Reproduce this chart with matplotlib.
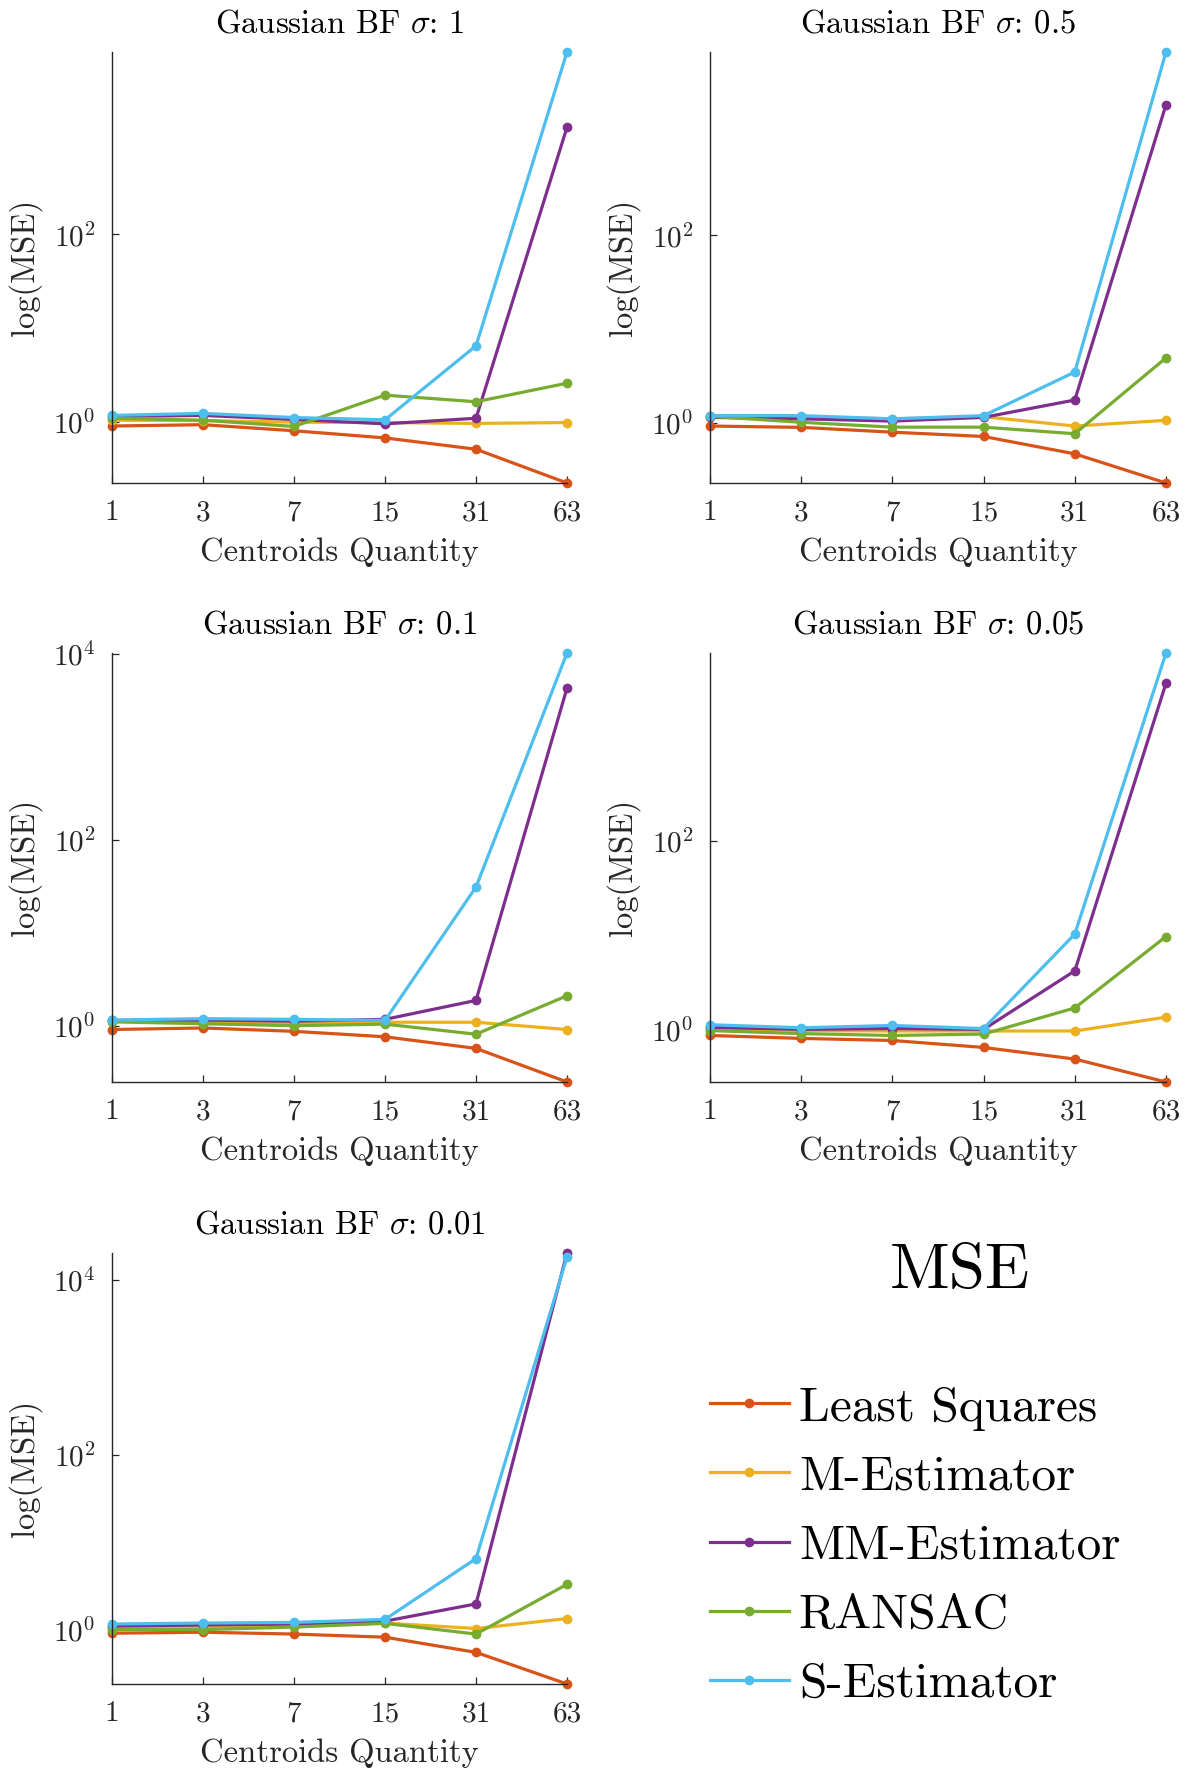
import numpy as np
import matplotlib
matplotlib.use("Agg")
import matplotlib.pyplot as plt
from matplotlib.ticker import FixedLocator, NullLocator, LogFormatterSciNotation

plt.rcParams['font.family'] = ['cmr10', 'DejaVu Serif']
plt.rcParams['mathtext.fontset'] = 'cm'
plt.rcParams['axes.formatter.use_mathtext'] = True

# data
centroids = [1, 3, 7, 15, 31, 63]
sigmas = ['1', '0.5', '0.1', '0.05', '0.01']
methods = ['Least Squares', 'M-Estimator', 'MM-Estimator', 'RANSAC', 'S-Estimator']
colors = ['#D95319', '#EDB120', '#7E2F8E', '#77AC30', '#4DBEEE']

mse_s1 = [
    [0.91, 0.94, 0.81, 0.68, 0.515, 0.225],
    [1.05, 1.04, 1.00, 0.99, 0.97, 0.99],
    [1.15, 1.18, 1.07, 0.96, 1.10, 1380],
    [1.10, 1.05, 0.90, 1.94, 1.65, 2.6],
    [1.18, 1.24, 1.12, 1.06, 6.5, 8750],
]
mse_s05 = [
    [0.93, 0.90, 0.80, 0.72, 0.47, 0.23],
    [1.17, 1.16, 1.11, 1.17, 0.93, 1.07],
    [1.15, 1.11, 1.05, 1.15, 1.76, 2460],
    [1.18, 1.02, 0.905, 0.905, 0.77, 4.95],
    [1.20, 1.20, 1.11, 1.20, 3.5, 8970],
]
mse_s01 = [
    [0.91, 0.945, 0.87, 0.76, 0.57, 0.248],
    [1.12, 1.10, 1.07, 1.09, 1.09, 0.91],
    [1.14, 1.15, 1.12, 1.17, 1.87, 4280],
    [1.10, 1.05, 1.00, 1.04, 0.81, 2.1],
    [1.15, 1.19, 1.17, 1.14, 31, 10200],
]
mse_s005 = [
    [0.87, 0.81, 0.77, 0.65, 0.49, 0.28],
    [1.03, 0.98, 0.97, 0.97, 0.97, 1.36],
    [1.06, 1.01, 1.03, 1.01, 4.2, 4650],
    [0.98, 0.91, 0.87, 0.90, 1.70, 9.7],
    [1.13, 1.05, 1.11, 1.03, 10.3, 9700],
]
mse_s001 = [
    [0.91, 0.935, 0.89, 0.82, 0.55, 0.239],
    [1.05, 1.06, 1.10, 1.19, 1.03, 1.34],
    [1.10, 1.13, 1.16, 1.25, 1.97, 20300],
    [1.00, 1.00, 1.07, 1.18, 0.89, 3.3],
    [1.16, 1.19, 1.21, 1.31, 6.5, 18300],
]
all_mse = [mse_s1, mse_s05, mse_s01, mse_s005, mse_s001]

W, H = 1196, 1769
fig = plt.figure(figsize=(W / 100, H / 100), dpi=100)

# axes boxes in pixels: left, top, right, bottom
boxes = [
    (112, 52, 567, 483),
    (710, 52, 1166, 483),
    (112, 653, 567, 1082),
    (710, 653, 1166, 1082),
    (112, 1253, 567, 1684),
]

axcol = '#262626'
x = np.arange(len(centroids))
handles = []
for k, (sig, data) in enumerate(zip(sigmas, all_mse)):
    l, t, r, b = boxes[k]
    ax = fig.add_axes([l / W, 1 - b / H, (r - l) / W, (b - t) / H])
    for m, (name, c) in enumerate(zip(methods, colors)):
        h, = ax.plot(x, data[m], '-o', color=c, lw=2.3, ms=6, label=name, clip_on=False)
        if k == 0:
            handles.append(h)
    ax.set_yscale('log')
    vals = np.array(data)
    ax.set_ylim(vals.min(), vals.max())
    ax.set_xlim(0, len(centroids) - 1)
    ax.set_xticks(x)
    ax.set_xticklabels([str(c) for c in centroids])
    ax.yaxis.set_major_locator(FixedLocator([1, 1e2, 1e4]))
    ax.yaxis.set_major_formatter(LogFormatterSciNotation())
    ax.yaxis.set_minor_locator(NullLocator())
    for s in ['top', 'right']:
        ax.spines[s].set_visible(False)
    for s in ['left', 'bottom']:
        ax.spines[s].set_color(axcol)
        ax.spines[s].set_linewidth(1.0)
    ax.tick_params(direction='in', length=5, width=0.9, colors=axcol, labelsize=21, pad=12)
    ax.set_xlabel('Centroids Quantity', fontsize=23.5, color=axcol, labelpad=8)
    ax.set_ylabel('log(MSE)', fontsize=23.5, color=axcol, labelpad=8)
    ax.set_title(r'Gaussian BF $\sigma$: ' + sig, fontsize=23.5, pad=14)

fig.text(960 / W, 1 - 1272 / H, 'MSE', fontsize=47, ha='center', va='center')
fig.legend(handles, methods, loc='upper left', bbox_to_anchor=(710 / W, 1 - 1386 / H),
           frameon=False, fontsize=35.5, handlelength=1.6, handletextpad=0.2,
           labelspacing=0.5, borderaxespad=0, borderpad=0)

fig.savefig('out.png', dpi=100)
